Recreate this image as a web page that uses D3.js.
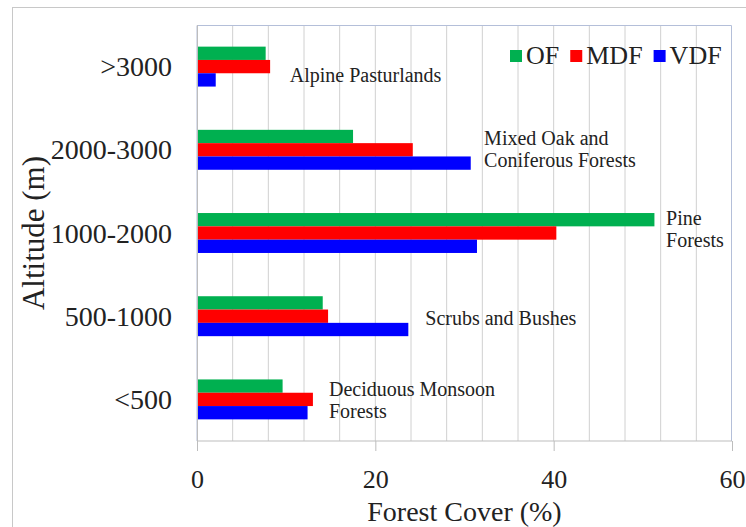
<!DOCTYPE html>
<html>
<head>
<meta charset="utf-8">
<script src="https://cdn.jsdelivr.net/npm/d3@7"></script>
<style>
  body { margin: 0; background: #fff; }
  text { font-family: "Liberation Serif", "Times New Roman", serif; fill: #222; }
</style>
</head>
<body>
<script>
const categories = ['>3000', '2000-3000', '1000-2000', '500-1000', '<500'];
const seriesNames = ['OF', 'MDF', 'VDF'];
const ofValues = [7.7, 17.5, 51.3, 14.1, 9.6];
const mdfValues = [8.2, 24.2, 40.3, 14.7, 13.0];
const vdfValues = [2.1, 30.7, 31.4, 23.7, 12.4];
const xTicks = [0, 20, 40, 60];
const forestTypes = [
  ['Alpine Pasturlands'],
  ['Mixed Oak and', 'Coniferous Forests'],
  ['Pine', 'Forests'],
  ['Scrubs and Bushes'],
  ['Deciduous Monsoon', 'Forests']
];
// where each forest label starts (in % units) and its vertical shift
const labelX = [10.4, 32.2, 52.6, 25.6, 14.8];
const labelDy = [8, -1, -4, 2, 1];

const colors = { OF: '#00b050', MDF: '#ff0000', VDF: '#0000ff' };
const values = { OF: ofValues, MDF: mdfValues, VDF: vdfValues };

const svgWidth = 746, svgHeight = 527;
const margin = { top: 25, right: 14, bottom: 86, left: 197 };
const width = svgWidth - margin.left - margin.right;
const height = svgHeight - margin.top - margin.bottom;

const root = d3.select('body').append('svg')
  .attr('width', svgWidth)
  .attr('height', svgHeight);

// outer frame
root.append('rect')
  .attr('x', 12.5).attr('y', 7.5)
  .attr('width', svgWidth - 12).attr('height', svgHeight)
  .attr('fill', 'none').attr('stroke', '#c8c8c8');

const svg = root.append('g')
  .attr('transform', `translate(${margin.left}, ${margin.top})`);

const x = d3.scaleLinear().domain([0, 60]).range([0, width]);
const y = d3.scaleBand().domain(categories).range([0, height]).paddingInner(0.52).paddingOuter(0.26);
const y1 = d3.scaleBand().domain(seriesNames).range([0, y.bandwidth()]);

// gridlines every 4 units
svg.append('g')
  .selectAll('line')
  .data(d3.range(4, 60, 4))
  .enter().append('line')
  .attr('x1', d => x(d)).attr('x2', d => x(d))
  .attr('y1', 0).attr('y2', height)
  .attr('stroke', '#d0d0d0');

// plot border (top/right/left)
svg.append('path')
  .attr('d', `M0,${height}V0.5H${width - 0.5}V${height}`)
  .attr('fill', 'none').attr('stroke', '#b4bfd9');
svg.append('line')
  .attr('x1', 0.5).attr('x2', 0.5).attr('y1', 0).attr('y2', height)
  .attr('stroke', '#bdbdbd');

// bars
categories.forEach((c, i) => {
  svg.append('g')
    .attr('transform', `translate(0, ${y(c)})`)
    .selectAll('rect')
    .data(seriesNames)
    .enter().append('rect')
    .attr('x', x(0) + 1)
    .attr('y', s => y1(s))
    .attr('width', s => x(values[s][i]) - x(0) - 1)
    .attr('height', y1.bandwidth())
    .attr('fill', s => colors[s]);
});

// x-axis
const xAxis = svg.append('g')
  .attr('transform', `translate(0, ${height})`)
  .call(d3.axisBottom(x).tickValues(xTicks).tickSize(10).tickPadding(19));
xAxis.select('.domain').attr('stroke', '#bdbdbd').attr('d', `M0.5,0H${width}`);
xAxis.selectAll('line').attr('stroke', '#bdbdbd');
xAxis.selectAll('text').style('font-size', '26px').attr('fill', '#222');

// y-axis labels
const yAxis = svg.append('g')
  .call(d3.axisLeft(y).tickSize(0).tickPadding(25));
yAxis.select('.domain').remove();
yAxis.selectAll('text').style('font-size', '28px').attr('fill', '#222').attr('dy', '0.34em');

// forest type annotations
categories.forEach((c, i) => {
  const lines = forestTypes[i];
  const cy = y(c) + y.bandwidth() / 2 + labelDy[i];
  const t = svg.append('text')
    .attr('x', x(labelX[i]))
    .attr('y', cy - (lines.length - 1) * 11)
    .style('font-size', '20px');
  lines.forEach((l, j) => {
    t.append('tspan').attr('x', x(labelX[i])).attr('dy', j === 0 ? '0.35em' : 22).text(l);
  });
});

// legend
const legend = root.append('g').attr('transform', 'translate(510, 50)');
let lx = 0;
seriesNames.forEach(s => {
  const g = legend.append('g').attr('transform', `translate(${lx}, 0)`);
  g.append('rect').attr('width', 12).attr('height', 12).attr('fill', colors[s]);
  const t = g.append('text').attr('x', 16).attr('y', 14).style('font-size', '26px').text(s);
  lx += 16 + t.node().getComputedTextLength() + 11;
});

// axis titles
root.append('text')
  .attr('x', margin.left + width / 2)
  .attr('y', 521)
  .attr('text-anchor', 'middle')
  .style('font-size', '28px')
  .text('Forest Cover (%)');

root.append('text')
  .attr('transform', `translate(44, ${margin.top + height / 2}) rotate(-90)`)
  .attr('text-anchor', 'middle')
  .style('font-size', '31px')
  .text('Altitude (m)');
</script>
</body>
</html>
